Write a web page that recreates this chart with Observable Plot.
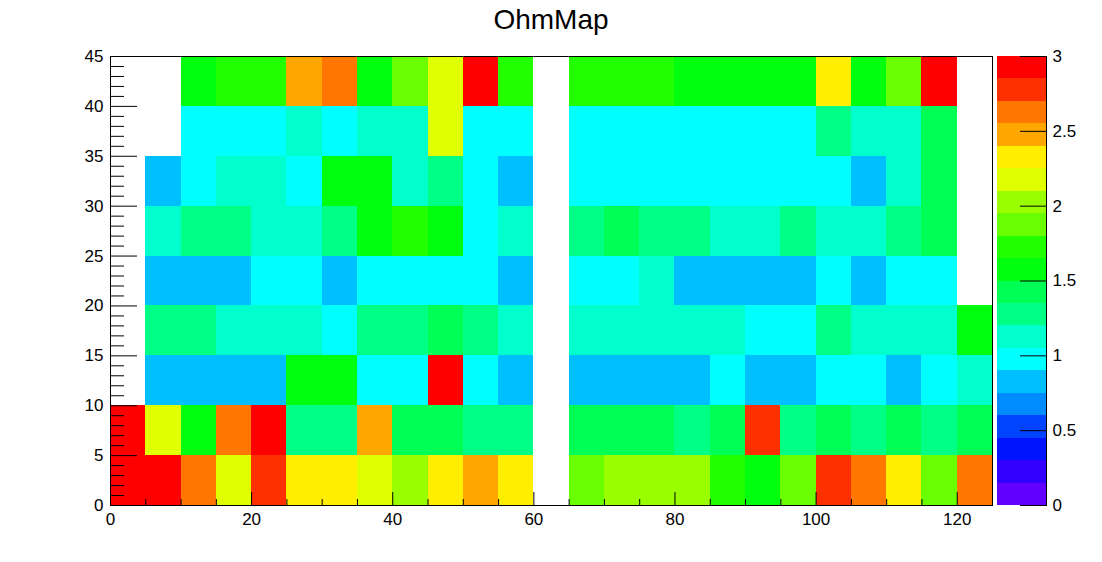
<!DOCTYPE html>
<html><head><meta charset="utf-8">
<script src="https://cdn.jsdelivr.net/npm/d3@7"></script>
<script src="https://cdn.jsdelivr.net/npm/@observablehq/plot@0.6"></script>
<style>
html,body{margin:0;padding:0;background:#fff;}
#wrap{position:relative;width:1102px;height:562px;font-family:"Liberation Sans",Arial,sans-serif;}
#wrap svg{position:absolute;left:0;top:0;}
#title{position:absolute;left:0;width:1102px;top:6px;text-align:center;font-size:28px;line-height:28px;color:#000;}
</style></head><body>
<div id="wrap"><div id="title">OhmMap</div></div>
<script>
// Bin edges
const xEdges = [0,5,10,15,20,25,30,35,40,45,50,55,60,65,70,75,80,85,90,95,100,105,110,115,120,125];
const yEdges = [0,5,10,15,20,25,30,35,40,45];

// Cell values per y-bin row (null = empty bin)
const row_y0  = [2.95,2.95,2.6,2.2,2.8,2.3,2.3,2.2,2.0,2.3,2.5,2.3,null,1.9,2.0,2.0,2.0,1.7,1.6,1.9,2.8,2.6,2.3,1.9,2.6];
const row_y5  = [2.95,2.2,1.6,2.6,2.95,1.3,1.3,2.5,1.4,1.4,1.3,1.3,null,1.4,1.4,1.4,1.3,1.4,2.8,1.3,1.4,1.3,1.4,1.3,1.4];
const row_y10 = [null,0.8,0.8,0.8,0.8,1.6,1.6,1.0,1.0,2.95,1.0,0.8,null,0.8,0.8,0.8,0.8,1.0,0.8,0.8,1.0,1.0,0.8,1.0,1.1];
const row_y15 = [null,1.3,1.3,1.1,1.1,1.1,1.0,1.3,1.3,1.4,1.3,1.1,null,1.1,1.1,1.1,1.1,1.1,1.0,1.0,1.3,1.1,1.1,1.1,1.6];
const row_y20 = [null,0.8,0.8,0.8,1.0,1.0,0.8,1.0,1.0,1.0,1.0,0.8,null,1.0,1.0,1.1,0.8,0.8,0.8,0.8,1.0,0.8,1.0,1.0,null];
const row_y25 = [null,1.1,1.3,1.3,1.1,1.1,1.3,1.6,1.7,1.6,1.0,1.1,null,1.3,1.4,1.3,1.3,1.1,1.1,1.3,1.1,1.1,1.3,1.4,null];
const row_y30 = [null,0.8,1.0,1.1,1.1,1.0,1.6,1.6,1.1,1.3,1.0,0.8,null,1.0,1.0,1.0,1.0,1.0,1.0,1.0,1.0,0.8,1.1,1.4,null];
const row_y35 = [null,null,1.0,1.0,1.0,1.1,1.0,1.1,1.1,2.2,1.0,1.0,null,1.0,1.0,1.0,1.0,1.0,1.0,1.0,1.3,1.1,1.1,1.4,null];
const row_y40 = [null,null,1.6,1.7,1.7,2.5,2.6,1.6,1.9,2.2,2.95,1.7,null,1.7,1.7,1.7,1.6,1.6,1.6,1.6,2.3,1.6,1.9,2.95,null];

// Palette (20 contour levels from 0 to 3)
const thresholds = [0.15,0.3,0.45,0.6,0.75,0.9,1.05,1.2,1.35,1.5,1.65,1.8,1.95,2.1,2.25,2.4,2.55,2.7,2.85];
const paletteColors = ["#6200ff","#3300ff","#0014ff","#0044ff","#008bff","#00bfff","#00ffff","#00ffcc","#00ff85","#00ff55","#00ff0e","#22ff00","#69ff00","#99ff00","#e0ff00","#ffee00","#ffa700","#ff7700","#ff3000","#ff0000"];

// Tick labels
const xMajor = [0,20,40,60,80,100,120];
const xMinor = [5,10,15,25,30,35,45,50,55,65,70,75,85,90,95,105,110,115];
const yMajor = [0,5,10,15,20,25,30,35,40,45];
const yMinor = [1,2,3,4,6,7,8,9,11,12,13,14,16,17,18,19,21,22,23,24,26,27,28,29,31,32,33,34,36,37,38,39,41,42,43,44];
const zTicks = [0,0.5,1,1.5,2,2.5,3];

const rows = [row_y0,row_y5,row_y10,row_y15,row_y20,row_y25,row_y30,row_y35,row_y40];
const cells = [];
rows.forEach((row, r) => row.forEach((v, c) => {
  if (v != null) cells.push({x1: xEdges[c], x2: xEdges[c+1], y1: yEdges[r], y2: yEdges[r+1], v});
}));
const lows = [0, ...thresholds];
const highs = [...thresholds, 3];
const bands = lows.map((lo, i) => ({lo, hi: highs[i], mid: (lo + highs[i]) / 2}));

const W = 1102, H = 562, mL = 110, mR = 110, mT = 56, mB = 57;
const frameW = W - mL - mR, frameH = H - mT - mB;
const font = '"Liberation Sans", Arial, sans-serif';
const colorScale = {type: "threshold", domain: thresholds, range: paletteColors};
const fs = 17;

const main = Plot.plot({
  width: W, height: H, marginLeft: mL, marginRight: mR, marginTop: mT, marginBottom: mB,
  style: {fontFamily: font, fontSize: fs + "px", color: "black", background: "transparent"},
  x: {domain: [0, 125]},
  y: {domain: [0, 45]},
  color: colorScale,
  marks: [
    Plot.rect(cells, {x1: "x1", x2: "x2", y1: "y1", y2: "y2", fill: "v", shapeRendering: "crispEdges"}),
    Plot.ruleX(xMinor, {x: d => d, insetTop: frameH - 6, stroke: "black"}),
    Plot.ruleX(xMajor, {x: d => d, insetTop: frameH - 13, stroke: "black"}),
    Plot.ruleY(yMinor, {y: d => d, insetRight: frameW - 14, stroke: "black"}),
    Plot.ruleY(yMajor, {y: d => d, insetRight: frameW - 27, stroke: "black"}),
    Plot.frame({stroke: "black"}),
    Plot.axisX(xMajor, {tickSize: 0, tickPadding: 7, fontSize: fs, label: null, tickFormat: d => String(d)}),
    Plot.axisY(yMajor, {tickSize: 0, tickPadding: 7, fontSize: fs, label: null, tickFormat: d => String(d)})
  ]
});

const pal = Plot.plot({
  width: W, height: H, marginLeft: 997, marginRight: 56, marginTop: mT, marginBottom: mB,
  style: {fontFamily: font, fontSize: fs + "px", color: "black", background: "transparent"},
  y: {domain: [0, 3]},
  color: colorScale,
  marks: [
    Plot.rect(bands, {y1: "lo", y2: "hi", fill: "mid", shapeRendering: "crispEdges"}),
    Plot.ruleY(zTicks, {y: d => d, insetLeft: 49 - 26, stroke: "black"}),
    Plot.frame({anchor: "right", stroke: "black"}),
    Plot.axisY(zTicks, {anchor: "right", tickSize: 0, tickPadding: 6, fontSize: fs, label: null, tickFormat: d => String(d)})
  ]
});

const wrap = document.getElementById("wrap");
wrap.appendChild(main);
wrap.appendChild(pal);
</script>
</body></html>
